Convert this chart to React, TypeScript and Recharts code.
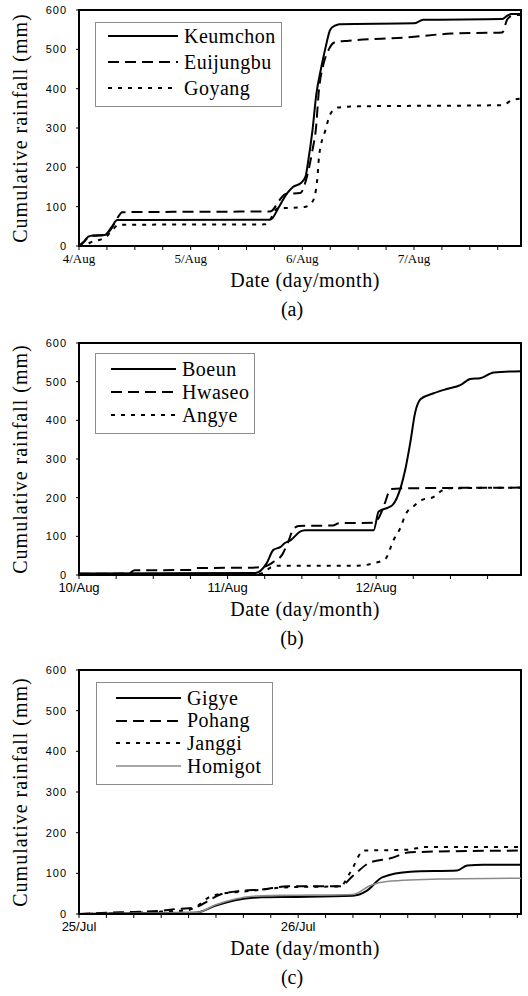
import React from "react";
import { LineChart, Line, XAxis, YAxis, ReferenceArea } from "recharts";

// (a) 4-7 Aug, hours from 4/Aug 00:00
const aDays = ["4/Aug", "5/Aug", "6/Aug", "7/Aug"];
const keumchonHours = [0, 1, 2, 3, 5.5, 7, 8.2, 41, 41.5, 43, 44.8, 46, 47.7, 48.7, 49.2, 50.2, 51, 52, 53, 54, 55, 56, 72, 74, 91, 92, 93, 95];
const keumchonRain = [0, 10, 24, 27, 28, 48, 66, 67, 70, 100, 135, 150, 160, 177, 211, 296, 385, 450, 505, 550, 560, 564, 566, 575, 577, 585, 590, 590];
const euijungbuHours = [0, 1, 2, 3, 5.5, 7, 8.2, 9.3, 41, 41.5, 43, 44.4, 47.6, 49, 50.2, 50.9, 51.6, 52.5, 53.7, 55, 58, 70, 80, 91, 92, 93, 95];
const euijungbuRain = [0, 10, 22, 26, 28, 45, 70, 86, 88, 90, 115, 132, 135, 177, 245, 296, 400, 460, 500, 518, 522, 530, 540, 543, 575, 585, 588];
const goyangHours = [0, 1, 2, 3, 4.5, 5.5, 7, 8.5, 40, 40.8, 42.7, 46, 48.7, 50.2, 51.2, 51.6, 53, 54, 55.6, 60, 91, 93, 95];
const goyangRain = [0, 3, 6, 12, 16, 20, 38, 54, 55, 62, 96, 97, 100, 113, 168, 228, 296, 335, 352, 355, 358, 370, 375];

// (b) 10-12 Aug
const bDays = ["10/Aug", "11/Aug", "12/Aug"];
const boeunHours = [0, 28.5, 30.3, 31.4, 32.5, 33.2, 34.2, 35.7, 36.5, 47.6, 48.4, 50.3, 50.7, 52, 52.7, 53.5, 54.3, 55.2, 57.3, 59.4, 61.6, 63.2, 64.8, 67, 71.4];
const boeunRain = [4, 5, 30, 65, 72, 82, 90, 112, 116, 116, 164, 177, 182, 228, 272, 341, 420, 455, 470, 481, 491, 507, 509, 524, 527];
const hwaseoHours = [0, 8, 9, 18, 19, 28, 30, 31.5, 32.8, 33.8, 34.6, 35.5, 41, 42, 47.5, 48.5, 49.5, 50.3, 52, 71.4];
const hwaseoRain = [3, 4, 12, 13, 18, 19, 22, 35, 52, 86, 118, 127, 128, 134, 135, 150, 190, 222, 224, 226];
const angyeHours = [0, 29, 30, 31, 32, 45, 47.5, 49.5, 50.8, 52, 52.7, 54, 55.4, 57.3, 58.3, 59.4, 71.4];
const angyeRain = [0, 2, 8, 20, 24, 24, 30, 42, 90, 125, 155, 177, 194, 202, 215, 224, 226];

// (c) 25-26 Jul
const cDays = ["25/Jul", "26/Jul"];
const gigyeHours = [0, 6, 12, 13, 14.9, 17.1, 20, 23.7, 30, 31.5, 33.2, 36.3, 41.4, 42.5, 44.3, 48.4];
const gigyeRain = [0, 2, 3, 4, 20, 34, 41, 42, 45, 57, 90, 104, 107, 119, 121, 121];
const pohangHours = [0, 3, 6, 9, 10.5, 12, 13, 14.2, 15.6, 17.8, 20, 22.9, 28.6, 30, 31.9, 34.1, 36.3, 48.4];
const pohangRain = [0, 3, 5, 8, 12, 14, 18, 33, 49, 57, 60, 68, 68, 94, 127, 137, 152, 156];
const janggiHours = [0, 6, 9, 12, 13, 14, 15.6, 18, 20, 23, 28.6, 29.7, 31.2, 36, 38, 48.4];
const janggiRain = [0, 3, 6, 10, 20, 38, 50, 55, 60, 66, 68, 102, 156, 158, 165, 165];
const homigotHours = [0, 6, 12, 13, 14.9, 17.1, 20, 23.7, 30, 31.9, 33.7, 39.6, 48.4];
const homigotRain = [0, 2, 3, 4, 22, 37, 45, 46, 48, 70, 80, 86, 88];

const yTicks = [0, 100, 200, 300, 400, 500, 600];

const SOLID = { stroke: "#000", width: 2, dash: undefined as string | undefined };
const DASHED = { stroke: "#000", width: 2, dash: "11 6" };
const DOTTED = { stroke: "#000", width: 2, dash: "4 6" };
const GREY = { stroke: "#8a8a8a", width: 1.6, dash: undefined as string | undefined };

const serif = "'Liberation Serif', 'Times New Roman', serif";
const sans = "'Liberation Sans', Arial, sans-serif";

type Series = { name: string; hours: number[]; rain: number[]; style: typeof SOLID };

type PanelProps = {
  top: number;
  marginTop: number;
  xHeight: number;
  maxHour: number;
  step: number;
  days: string[];
  tickFont: string;
  series: Series[];
  legend: { left: number; top: number; width: number; height: number; rowTop: number; gap: number; lineLeft: number; lineWidth: number };
  caption: string;
};

function Panel({ top, marginTop, xHeight, maxHour, step, days, tickFont, series, legend, caption }: PanelProps) {
  const ticks: number[] = [];
  for (let t = 0; t <= maxHour; t += step) ticks.push(t);
  const plotBottom = 300 - xHeight;
  const plotMid = (marginTop + plotBottom) / 2;

  return (
    <div style={{ position: "absolute", left: 0, top, width: 528, height: 330 }}>
      <LineChart width={528} height={300} margin={{ top: marginTop, right: 7, bottom: 0, left: 0 }}>
        <XAxis
          dataKey="h"
          type="number"
          domain={[0, maxHour]}
          ticks={ticks}
          allowDataOverflow
          height={xHeight}
          tickFormatter={(v: number) => (v % 24 === 0 ? days[v / 24] ?? "" : "")}
          tick={{ fill: "#000", fontSize: 13, fontFamily: tickFont }}
          tickSize={4}
          tickMargin={4}
          tickLine={{ stroke: "#000" }}
          axisLine={{ stroke: "#000", strokeWidth: 2 }}
        />
        <YAxis
          type="number"
          domain={[0, 600]}
          ticks={yTicks}
          width={79}
          tick={{ fill: "#000", fontSize: 11, fontFamily: sans, letterSpacing: 1 }}
          tickSize={3}
          tickMargin={9}
          tickLine={{ stroke: "#000" }}
          axisLine={{ stroke: "#000", strokeWidth: 2 }}
        />
        <ReferenceArea x1={0} x2={maxHour} y1={0} y2={600} fill="none" stroke="#000" strokeWidth={2} />
        {series.map((s) => (
          <Line
            key={s.name}
            data={s.hours.map((h, i) => ({ h, v: s.rain[i] }))}
            dataKey="v"
            type="monotone"
            stroke={s.style.stroke}
            strokeWidth={s.style.width}
            strokeDasharray={s.style.dash}
            dot={false}
            activeDot={false}
            isAnimationActive={false}
          />
        ))}
      </LineChart>

      <div
        style={{
          position: "absolute",
          left: legend.left,
          top: legend.top,
          width: legend.width,
          height: legend.height,
          border: "1px solid #8c8c8c",
          background: "#fff",
          boxSizing: "border-box",
        }}
      >
        {series.map((s, i) => (
          <div
            key={s.name}
            style={{
              position: "absolute",
              left: 0,
              top: legend.rowTop + i * legend.gap - 12,
              height: 24,
              display: "flex",
              alignItems: "center",
            }}
          >
            <svg width={legend.lineLeft + legend.lineWidth + 6} height={24}>
              <line
                x1={legend.lineLeft}
                x2={legend.lineLeft + legend.lineWidth}
                y1={12}
                y2={12}
                stroke={s.style.stroke}
                strokeWidth={s.style.width}
                strokeDasharray={s.style.dash}
              />
            </svg>
            <span style={{ fontFamily: serif, fontSize: 20, letterSpacing: 0.5, color: "#000" }}>{s.name}</span>
          </div>
        ))}
      </div>

      <div
        style={{
          position: "absolute",
          left: 20,
          top: plotMid,
          transform: "translate(-50%, -50%) rotate(-90deg)",
          whiteSpace: "nowrap",
          fontFamily: serif,
          fontSize: 20,
          letterSpacing: 1,
          color: "#000",
        }}
      >
        Cumulative rainfall (mm)
      </div>
      <div
        style={{
          position: "absolute",
          left: 305,
          top: plotBottom + 34,
          transform: "translate(-50%, -50%)",
          whiteSpace: "nowrap",
          fontFamily: serif,
          fontSize: 20,
          letterSpacing: 0.5,
          color: "#000",
        }}
      >
        Date (day/month)
      </div>
      <div
        style={{
          position: "absolute",
          left: 292,
          top: plotBottom + 63,
          transform: "translate(-50%, -50%)",
          whiteSpace: "nowrap",
          fontFamily: serif,
          fontSize: 20,
          color: "#000",
        }}
      >
        {caption}
      </div>
    </div>
  );
}

export default function App() {
  return (
    <div style={{ position: "absolute", left: 0, top: 0, width: 528, height: 996, background: "#fff", overflow: "hidden" }}>
      <Panel
        top={0}
        marginTop={10}
        xHeight={54}
        maxHour={95}
        step={6}
        days={aDays}
        tickFont={serif}
        series={[
          { name: "Keumchon", hours: keumchonHours, rain: keumchonRain, style: SOLID },
          { name: "Euijungbu", hours: euijungbuHours, rain: euijungbuRain, style: DASHED },
          { name: "Goyang", hours: goyangHours, rain: goyangRain, style: DOTTED },
        ]}
        legend={{ left: 95, top: 22, width: 187, height: 85, rowTop: 13, gap: 26, lineLeft: 12, lineWidth: 70 }}
        caption="(a)"
      />
      <Panel
        top={320}
        marginTop={23}
        xHeight={45}
        maxHour={71.4}
        step={6}
        days={bDays}
        tickFont={sans}
        series={[
          { name: "Boeun", hours: boeunHours, rain: boeunRain, style: SOLID },
          { name: "Hwaseo", hours: hwaseoHours, rain: hwaseoRain, style: DASHED },
          { name: "Angye", hours: angyeHours, rain: angyeRain, style: DOTTED },
        ]}
        legend={{ left: 95, top: 33, width: 160, height: 81, rowTop: 15, gap: 23, lineLeft: 15, lineWidth: 65 }}
        caption="(b)"
      />
      <Panel
        top={650}
        marginTop={20}
        xHeight={36}
        maxHour={48.4}
        step={3}
        days={cDays}
        tickFont={sans}
        series={[
          { name: "Gigye", hours: gigyeHours, rain: gigyeRain, style: SOLID },
          { name: "Pohang", hours: pohangHours, rain: pohangRain, style: DASHED },
          { name: "Janggi", hours: janggiHours, rain: janggiRain, style: DOTTED },
          { name: "Homigot", hours: homigotHours, rain: homigotRain, style: GREY },
        ]}
        legend={{ left: 96, top: 32, width: 177, height: 103, rowTop: 15, gap: 22.7, lineLeft: 19, lineWidth: 65 }}
        caption="(c)"
      />
    </div>
  );
}
